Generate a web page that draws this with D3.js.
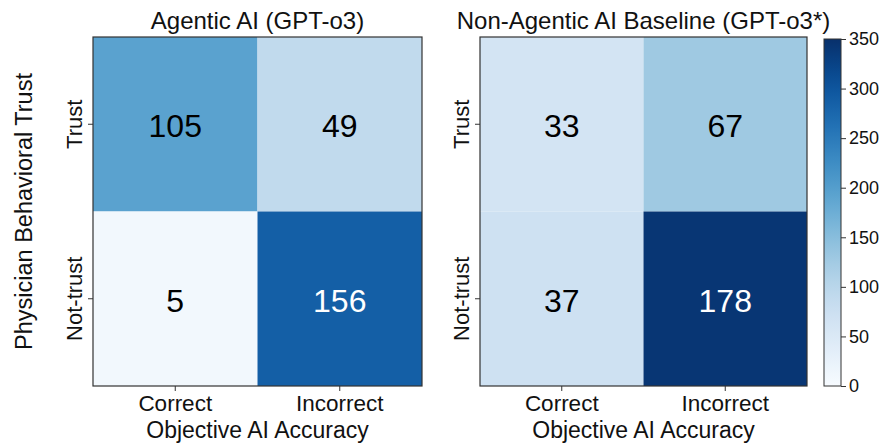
<!DOCTYPE html>
<html>
<head>
<meta charset="utf-8">
<script src="https://cdn.jsdelivr.net/npm/d3@7"></script>
<style>
  html, body { margin: 0; padding: 0; background: #fff; }
  svg { display: block; font-family: "Liberation Sans", Arial, sans-serif; }
</style>
</head>
<body>
<svg id="chart" width="882" height="443"></svg>
<script>
// ---- data ----
const accuracyCats = ["Correct", "Incorrect"];
const trustCats = ["Trust", "Not-trust"];
const panelTitles = ["Agentic AI (GPT-o3)", "Non-Agentic AI Baseline (GPT-o3*)"];
// rows: Trust, Not-trust ; cols: Correct, Incorrect
const agenticValues = [[105, 49], [5, 156]];
const baselineValues = [[33, 67], [37, 178]];
const colorbarTicks = [0, 50, 100, 150, 200, 250, 300, 350];
const xAxisLabel = "Objective AI Accuracy";
const yAxisLabel = "Physician Behavioral Trust";

const svg = d3.select("#chart");
const FONT = "'Liberation Sans', Arial, sans-serif";

const panels = [
  { title: panelTitles[0], values: agenticValues, x0: 93, x1: 422, vmax: 190 },
  { title: panelTitles[1], values: baselineValues, x0: 480, x1: 807, vmax: 182 }
];
const y0 = 37, y1 = 386;

panels.forEach((p, pi) => {
  const x = d3.scaleBand().domain(accuracyCats).range([p.x0, p.x1]);
  const y = d3.scaleBand().domain(trustCats).range([y0, y1]);
  const color = d3.scaleSequential(d3.interpolateBlues).domain([0, p.vmax]);

  const cells = [];
  trustCats.forEach((t, r) => accuracyCats.forEach((a, c) => cells.push({ t, a, v: p.values[r][c] })));

  const g = svg.append("g");
  g.selectAll("rect.cell").data(cells).join("rect")
    .attr("class", "cell")
    .attr("x", d => x(d.a)).attr("y", d => y(d.t))
    .attr("width", x.bandwidth()).attr("height", y.bandwidth())
    .attr("fill", d => color(d.v));

  g.selectAll("text.val").data(cells).join("text")
    .attr("class", "val")
    .attr("x", d => x(d.a) + x.bandwidth() / 2)
    .attr("y", d => y(d.t) + y.bandwidth() / 2 + 2)
    .attr("text-anchor", "middle")
    .attr("dominant-baseline", "central")
    .attr("font-size", 32)
    .attr("fill", d => (d.v / p.vmax > 0.6 ? "#ffffff" : "#000000"))
    .text(d => d.v);

  // frame
  g.append("rect")
    .attr("x", p.x0).attr("y", y0)
    .attr("width", p.x1 - p.x0).attr("height", y1 - y0)
    .attr("fill", "none").attr("stroke", "#333").attr("stroke-width", 1.2);

  // x axis
  const xa = svg.append("g").attr("transform", `translate(0,${y1})`)
    .call(d3.axisBottom(x).tickSize(5).tickPadding(4));
  xa.select(".domain").remove();
  xa.selectAll(".tick line").attr("stroke", "#333");
  xa.selectAll(".tick text").attr("font-size", 22.5).attr("fill", "#111")
    .attr("font-family", FONT);

  // y axis
  const ya = svg.append("g").attr("transform", `translate(${p.x0},0)`)
    .call(d3.axisLeft(y).tickSize(5));
  ya.select(".domain").remove();
  ya.selectAll(".tick line").attr("stroke", "#333");
  ya.selectAll(".tick text")
    .attr("x", null).attr("dy", null)
    .attr("transform", "translate(-11,0) rotate(-90)")
    .attr("text-anchor", "middle")
    .attr("font-size", 22).attr("fill", "#111")
    .attr("font-family", FONT);

  // title
  svg.append("text")
    .attr("x", (p.x0 + p.x1) / 2)
    .attr("y", 29)
    .attr("text-anchor", "middle")
    .attr("font-size", 24).attr("fill", "#111")
    .text(p.title);

  // x axis label
  svg.append("text")
    .attr("x", (p.x0 + p.x1) / 2)
    .attr("y", 438)
    .attr("text-anchor", "middle")
    .attr("font-size", 23).attr("fill", "#111")
    .text(xAxisLabel);
});

// y axis label (shared, left)
svg.append("text")
  .attr("transform", `translate(32,${(y0 + y1) / 2}) rotate(-90)`)
  .attr("text-anchor", "middle")
  .attr("font-size", 23.5).attr("fill", "#111")
  .text(yAxisLabel);

// ---- colorbar ----
const cbX = 824, cbW = 17, cbTop = 39, cbBot = 386;
const cbScale = d3.scaleLinear().domain([0, 350]).range([cbBot, cbTop]);
const defs = svg.append("defs");
const grad = defs.append("linearGradient").attr("id", "cbgrad")
  .attr("x1", "0%").attr("y1", "100%").attr("x2", "0%").attr("y2", "0%");
d3.range(0, 1.0001, 0.05).forEach(t => {
  grad.append("stop").attr("offset", `${t * 100}%`).attr("stop-color", d3.interpolateBlues(t));
});
svg.append("rect")
  .attr("x", cbX).attr("y", cbTop).attr("width", cbW).attr("height", cbBot - cbTop)
  .attr("fill", "url(#cbgrad)").attr("stroke", "#333").attr("stroke-width", 1);
const ca = svg.append("g").attr("transform", `translate(${cbX + cbW},0)`)
  .call(d3.axisRight(cbScale).tickValues(colorbarTicks).tickSize(5).tickPadding(3));
ca.select(".domain").remove();
ca.selectAll(".tick line").attr("stroke", "#333");
ca.selectAll(".tick text").attr("font-size", 18).attr("fill", "#111")
  .attr("font-family", FONT);
</script>
</body>
</html>
